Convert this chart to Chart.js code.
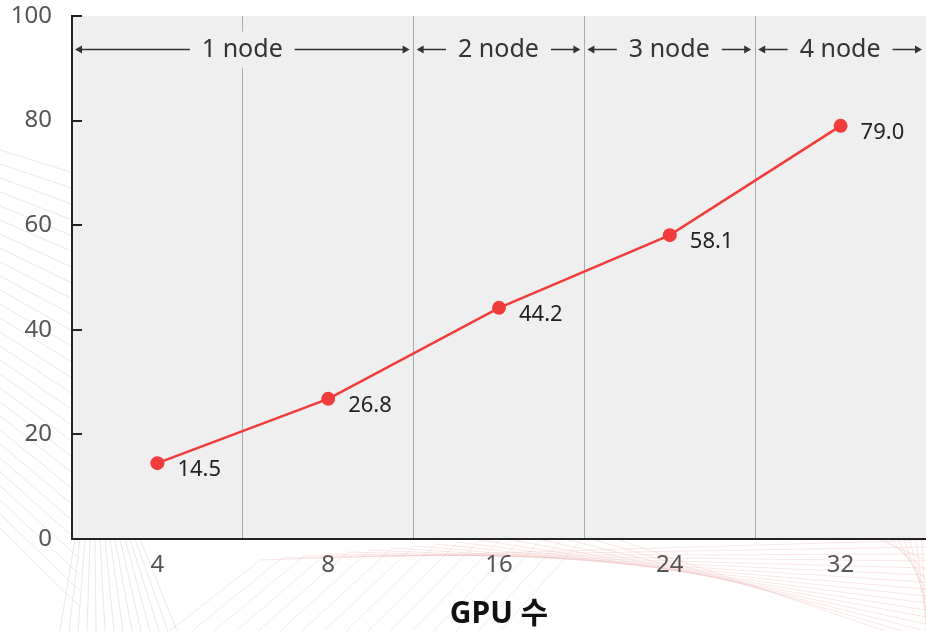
<!DOCTYPE html>
<html>
<head>
<meta charset="utf-8">
<script src="https://cdn.jsdelivr.net/npm/chart.js@4/dist/chart.umd.min.js"></script>
<style>
  html, body { margin: 0; padding: 0; background: #fff; }
  #wrap { width: 926px; height: 631px; }
</style>
</head>
<body>
<div id="wrap"><canvas id="chart-gpu"></canvas></div>
<script>
const gpuCounts = ['4', '8', '16', '24', '32'];
const throughput = [14.5, 26.8, 44.2, 58.1, 79.0];
const yTicks = [0, 20, 40, 60, 80, 100];
const nodeLabels = ['1 node', '2 node', '3 node', '4 node'];
const nodeStart = [0, 2, 3, 4];
const nodeEnd = [1, 2, 3, 4];

const FONT = "'Noto Sans', 'Noto Sans CJK KR', sans-serif";
const PLOT_BG = '#efefef';
const RED = '#f23b3b';

// faint decorative line pattern outside the plot, then the grey panel
const plotBg = {
  id: 'plotBg',
  beforeDraw(chart) {
    const { ctx, chartArea: a, width, height } = chart;
    ctx.save();
    ctx.beginPath();
    ctx.rect(0, 0, width, height);
    ctx.rect(a.left, a.top, a.right - a.left, a.bottom - a.top);
    ctx.clip('evenodd');
    ctx.lineWidth = 0.8;
    ctx.strokeStyle = 'rgba(190,190,210,0.45)';
    for (let i = 0; i < 28; i++) {
      ctx.beginPath();
      ctx.moveTo(0, 150 + i * 14);
      ctx.lineTo(80, 175 + i * 16);
      ctx.stroke();
    }
    for (let i = 0; i < 14; i++) {
      ctx.beginPath();
      ctx.moveTo(75 + i * 5, 539);
      ctx.lineTo(60 + i * 9, 631);
      ctx.stroke();
    }
    ctx.strokeStyle = 'rgba(235,180,180,0.4)';
    for (let i = 0; i < 16; i++) {
      ctx.beginPath();
      ctx.moveTo(170 + i * 22, 631);
      ctx.lineTo(260 + i * 22, 560 - i * 2);
      ctx.lineTo(926, 540 + i * 7);
      ctx.stroke();
    }
    for (let i = 0; i < 8; i++) {
      ctx.beginPath();
      ctx.moveTo(880 + i * 6, 540);
      ctx.lineTo(926, 560 + i * 10);
      ctx.stroke();
    }
    ctx.restore();

    ctx.save();
    ctx.fillStyle = PLOT_BG;
    ctx.fillRect(a.left, a.top, a.right - a.left, a.bottom - a.top);
    ctx.restore();
  },
};

// short inward ticks on the y axis
const yInnerTicks = {
  id: 'yInnerTicks',
  afterDraw(chart) {
    const { ctx, scales: { y }, chartArea: a } = chart;
    ctx.save();
    ctx.strokeStyle = '#222';
    ctx.lineWidth = 2;
    yTicks.forEach(v => {
      const py = Math.round(y.getPixelForValue(v));
      ctx.beginPath();
      ctx.moveTo(a.left, py);
      ctx.lineTo(a.left + 10, py);
      ctx.stroke();
    });
    ctx.restore();
  },
};

function arrowHead(ctx, x, y, dir) {
  ctx.beginPath();
  ctx.moveTo(x, y);
  ctx.lineTo(x - dir * 7, y - 4);
  ctx.lineTo(x - dir * 7, y + 4);
  ctx.closePath();
  ctx.fill();
}

// "n node" spans across the top
const nodeSpans = {
  id: 'nodeSpans',
  afterDraw(chart) {
    const { ctx, scales: { x, y } } = chart;
    const half = (x.getPixelForValue(1) - x.getPixelForValue(0)) / 2;
    const py = Math.round(y.getPixelForValue(93.7)) + 0.5;
    ctx.save();
    ctx.font = `25px ${FONT}`;
    ctx.textAlign = 'center';
    ctx.textBaseline = 'middle';
    nodeLabels.forEach((lbl, i) => {
      const l = x.getPixelForValue(nodeStart[i]) - half + 3;
      const r = Math.min(x.getPixelForValue(nodeEnd[i]) + half, chart.chartArea.right) - 4;
      const cx = (l + r) / 2;
      const w = ctx.measureText(lbl).width;
      ctx.fillStyle = PLOT_BG;
      ctx.fillRect(cx - w / 2 - 6, py - 18, w + 12, 36);
      ctx.fillStyle = '#333';
      ctx.fillText(lbl, cx, py);
      ctx.strokeStyle = '#333';
      ctx.lineWidth = 1.3;
      ctx.beginPath();
      ctx.moveTo(l + 4, py);
      ctx.lineTo(cx - w / 2 - 12, py);
      ctx.moveTo(cx + w / 2 + 12, py);
      ctx.lineTo(r - 4, py);
      ctx.stroke();
      arrowHead(ctx, l, py, -1);
      arrowHead(ctx, r, py, 1);
    });
    ctx.restore();
  },
};

// value labels right of each point
const valueLabels = {
  id: 'valueLabels',
  afterDatasetsDraw(chart) {
    const { ctx } = chart;
    const meta = chart.getDatasetMeta(0);
    ctx.save();
    ctx.font = `22px ${FONT}`;
    ctx.fillStyle = '#222';
    ctx.textAlign = 'left';
    ctx.textBaseline = 'middle';
    meta.data.forEach((pt, i) => {
      ctx.fillText(throughput[i].toFixed(1), pt.x + 20, pt.y + 7);
    });
    ctx.restore();
  },
};

new Chart(document.getElementById('chart-gpu'), {
  type: 'line',
  data: {
    labels: gpuCounts,
    datasets: [{
      data: throughput,
      borderColor: RED,
      backgroundColor: RED,
      borderWidth: 2.5,
      pointRadius: 7,
      pointBorderWidth: 0,
      pointBackgroundColor: RED,
      tension: 0,
    }],
  },
  options: {
    responsive: true,
    maintainAspectRatio: false,
    animation: false,
    layout: { autoPadding: false, padding: { top: 16, right: 0, left: 0, bottom: 0 } },
    plugins: { legend: { display: false }, tooltip: { enabled: false } },
    scales: {
      x: {
        offset: true,
        grid: { display: true, offset: true, color: '#aaa', lineWidth: 1, drawTicks: false },
        border: { display: true, color: '#222', width: 2 },
        ticks: { color: '#555', padding: 12, font: { family: FONT, size: 24 } },
        title: {
          display: true,
          text: 'GPU 수',
          color: '#111',
          font: { family: FONT, size: 30, weight: 'bold', lineHeight: 1 },
          padding: { top: 0, bottom: 2 },
        },
        afterFit: s => { s.height = 92; s.paddingLeft = 0; s.paddingRight = 0; },
      },
      y: {
        min: 0,
        max: 100,
        grid: { display: false, drawTicks: true, tickLength: 20 },
        border: { display: true, color: '#222', width: 2 },
        ticks: { stepSize: 20, color: '#555', padding: 0, font: { family: FONT, size: 24 } },
        afterFit: s => { s.width = 72; },
      },
    },
  },
  plugins: [plotBg, yInnerTicks, nodeSpans, valueLabels],
});
</script>
</body>
</html>
